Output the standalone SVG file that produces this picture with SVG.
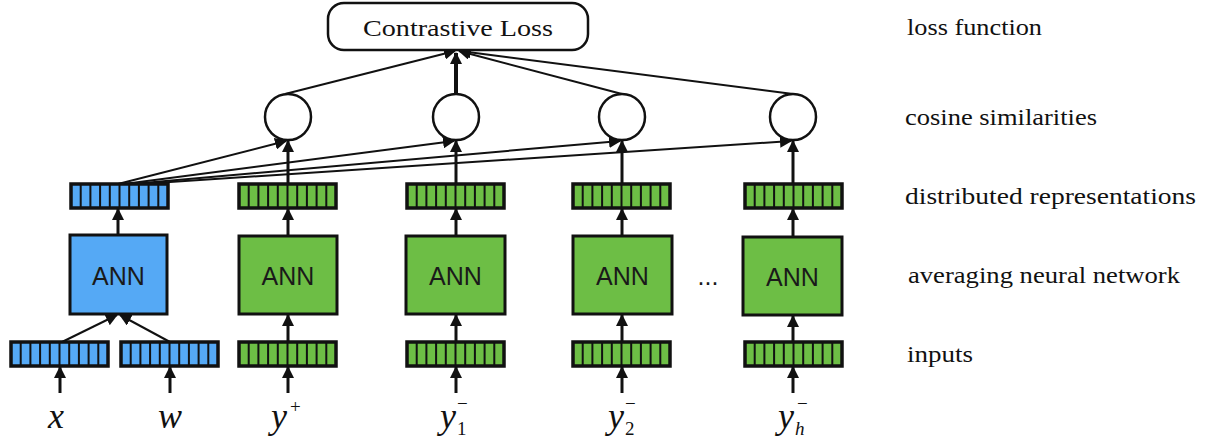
<svg xmlns="http://www.w3.org/2000/svg" xmlns:xlink="http://www.w3.org/1999/xlink" width="1210" height="442" viewBox="0 0 1210 442">
<style>
.lbl{font-family:"Liberation Serif","Times New Roman",serif;font-size:24px;fill:#111}
.ann{font-family:"Liberation Sans",Arial,sans-serif;font-size:25px;fill:#1a1a1a;text-anchor:middle}
.math{font-family:"Liberation Serif","Times New Roman",serif;font-style:italic;font-size:36px;fill:#111}
.sub{font-family:"Liberation Serif","Times New Roman",serif;font-size:19px;fill:#111}
.box{stroke:#111;stroke-width:3}
.blue{fill:#55A9F5}
.green{fill:#6DBE45}
.circ{fill:#fff;stroke:#111;stroke-width:2.5}
.ar{stroke:#111;stroke-width:3;fill:none;marker-end:url(#ah)}
.fan{stroke:#111;stroke-width:2;fill:none;marker-end:url(#ah)}
</style>
<defs>
<marker id="ah" markerUnits="userSpaceOnUse" markerWidth="12" markerHeight="12" refX="11" refY="6" orient="auto">
<path d="M0,0 L12,6 L0,12 z" fill="#111"/>
</marker>
<g id="cells">
<path d="M9.7,0V24M19.4,0V24M29.1,0V24M38.8,0V24M48.5,0V24M58.2,0V24M67.9,0V24M77.6,0V24M87.3,0V24" stroke="#111" stroke-width="2"/>
<rect x="0" y="0" width="97" height="24" fill="none" stroke="#111" stroke-width="3.5"/>
</g>
<g id="vb"><rect x="0" y="0" width="97" height="24" class="blue"/><use xlink:href="#cells"/></g>
<g id="vg"><rect x="0" y="0" width="97" height="24" class="green"/><use xlink:href="#cells"/></g>
</defs>
<rect width="1210" height="442" fill="#fff"/>

<g id="connectors">
<line class="ar" x1="60" y1="393" x2="60" y2="367"/>
<line class="ar" x1="170" y1="393" x2="170" y2="367"/>
<line class="fan" x1="62" y1="342" x2="117" y2="315"/>
<line class="fan" x1="170" y1="342" x2="120" y2="315"/>
<line class="ar" x1="288" y1="393" x2="288" y2="367"/>
<line class="ar" x1="456" y1="393" x2="456" y2="367"/>
<line class="ar" x1="622" y1="393" x2="622" y2="367"/>
<line class="ar" x1="793" y1="393" x2="793" y2="367"/>
<line class="ar" x1="288" y1="342" x2="288" y2="315"/>
<line class="ar" x1="456" y1="342" x2="456" y2="315"/>
<line class="ar" x1="622" y1="342" x2="622" y2="315"/>
<line class="ar" x1="793" y1="342" x2="793" y2="316"/>
<line class="ar" x1="118" y1="235" x2="118" y2="209"/>
<line class="ar" x1="288" y1="236" x2="288" y2="209"/>
<line class="ar" x1="456" y1="236" x2="456" y2="209"/>
<line class="ar" x1="622" y1="236" x2="622" y2="209"/>
<line class="ar" x1="793" y1="237" x2="793" y2="209"/>
<line class="ar" x1="288" y1="184" x2="288" y2="141"/>
<line class="ar" x1="456" y1="184" x2="456" y2="141"/>
<line class="ar" x1="622" y1="184" x2="622" y2="141"/>
<line class="ar" x1="793" y1="184" x2="793" y2="141"/>
<line class="fan" x1="118" y1="184" x2="286" y2="141"/>
<line class="fan" x1="124" y1="184" x2="454" y2="141"/>
<line class="fan" x1="132" y1="184" x2="620" y2="141"/>
<line class="fan" x1="140" y1="184" x2="791" y2="141"/>
<line class="fan" x1="285" y1="94" x2="455" y2="51"/>
<line x1="456" y1="94" x2="456" y2="53" stroke="#111" stroke-width="4" marker-end="url(#ah)"/>
<line class="fan" x1="622" y1="94" x2="459" y2="51"/>
<line class="fan" x1="793" y1="94" x2="460" y2="51"/>
</g>

<g id="loss">
<rect x="328" y="3" width="260" height="47" rx="16" fill="#fff" stroke="#111" stroke-width="2.5"/>
<text x="363" y="36" class="lbl" font-size="25" textLength="190" lengthAdjust="spacingAndGlyphs">Contrastive Loss</text>
</g>

<g id="cos1"><circle cx="288" cy="117" r="23" class="circ"/></g>
<g id="cos2"><circle cx="456" cy="117" r="23" class="circ"/></g>
<g id="cos3"><circle cx="622" cy="117" r="23" class="circ"/></g>
<g id="cos4"><circle cx="793" cy="117" r="23" class="circ"/></g>

<g id="rep0"><use xlink:href="#vb" x="71" y="184"/></g>
<g id="rep1"><use xlink:href="#vg" x="239" y="184"/></g>
<g id="rep2"><use xlink:href="#vg" x="407" y="184"/></g>
<g id="rep3"><use xlink:href="#vg" x="573" y="184"/></g>
<g id="rep4"><use xlink:href="#vg" x="745" y="184"/></g>

<g id="ann0"><rect x="70" y="235" width="97" height="79" class="blue box"/><text x="118.5" y="285" class="ann">ANN</text></g>
<g id="ann1"><rect x="239" y="236" width="98" height="78" class="green box"/><text x="288" y="285" class="ann">ANN</text></g>
<g id="ann2"><rect x="406" y="236" width="99" height="78" class="green box"/><text x="455.5" y="285" class="ann">ANN</text></g>
<g id="ann3"><rect x="573" y="236" width="99" height="78" class="green box"/><text x="622.5" y="285" class="ann">ANN</text></g>
<g id="ann4"><rect x="743" y="237" width="99" height="78" class="green box"/><text x="792.5" y="286" class="ann">ANN</text></g>
<g id="dots"><text x="708" y="285" class="ann" font-size="20">...</text></g>

<g id="in0a"><use xlink:href="#vb" x="11" y="342"/></g>
<g id="in0b"><use xlink:href="#vb" x="121" y="342"/></g>
<g id="in1"><use xlink:href="#vg" x="239" y="342"/></g>
<g id="in2"><use xlink:href="#vg" x="407" y="342"/></g>
<g id="in3"><use xlink:href="#vg" x="573" y="342"/></g>
<g id="in4"><use xlink:href="#vg" x="745" y="342"/></g>

<g id="vars">
<text x="48" y="428" class="math">x</text>
<text x="158" y="428" class="math">w</text>
<text x="271" y="428" class="math">y</text><text x="290" y="413" class="sub">+</text>
<text x="440" y="428" class="math">y</text><text x="457" y="435" class="sub">1</text><text x="457" y="410" class="sub">−</text>
<text x="608" y="428" class="math">y</text><text x="625" y="435" class="sub">2</text><text x="625" y="410" class="sub">−</text>
<text x="778" y="428" class="math">y</text><text x="795" y="435" class="sub" font-style="italic">h</text><text x="797" y="410" class="sub">−</text>
</g>

<g id="labels">
<text x="907" y="35" class="lbl" textLength="135" lengthAdjust="spacingAndGlyphs">loss function</text>
<text x="905" y="125" class="lbl" textLength="192" lengthAdjust="spacingAndGlyphs">cosine similarities</text>
<text x="905" y="204" class="lbl" textLength="291" lengthAdjust="spacingAndGlyphs">distributed representations</text>
<text x="908" y="283" class="lbl" textLength="272" lengthAdjust="spacingAndGlyphs">averaging neural network</text>
<text x="907" y="362" class="lbl" textLength="66" lengthAdjust="spacingAndGlyphs">inputs</text>
</g>
</svg>
